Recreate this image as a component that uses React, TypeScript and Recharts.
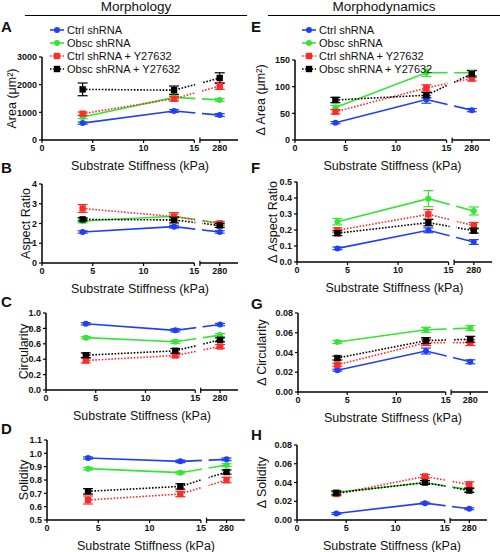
import React from "react";
import {
  LineChart,
  Line,
  XAxis,
  YAxis,
  ErrorBar,
  ReferenceArea,
  ReferenceLine,
  Legend,
} from "recharts";

const FONT = "'Liberation Sans', Arial, Helvetica, sans-serif";

// substrate stiffness (kPa); the x axis is broken between 15 and 280
const stiffness = [4, 13, 280];
const HIGH_POS = 17.5; // where the 280 kPa column sits on the broken axis
const X_MAX = 19.3;
const xPos = (k: number) => (k <= 15 ? k : HIGH_POS);
const xTicks = [0, 5, 10, 15, 15.55, HIGH_POS];
const xTickLabel = (v: number) => (v === HIGH_POS ? "280" : v === 15.55 ? "" : String(v));

const seriesNames = ["Ctrl shRNA", "Obsc shRNA", "Ctrl shRNA + Y27632", "Obsc shRNA + Y27632"];
const seriesColors = ["#1f3ff5", "#35e535", "#ff2a2a", "#000000"];
const seriesDotted = [false, false, true, true];

// Morphology
const areaMean = [[610, 1050, 900], [830, 1540, 1450], [950, 1490, 1950], [1830, 1800, 2240]];
const areaErr = [[40, 50, 50], [60, 90, 50], [60, 80, 120], [230, 150, 190]];
const aspectMean = [[1.57, 1.84, 1.57], [2.13, 2.37, 2.01], [2.76, 2.35, 2.0], [2.21, 2.18, 1.9]];
const aspectErr = [[0.06, 0.07, 0.06], [0.1, 0.1, 0.08], [0.2, 0.2, 0.1], [0.08, 0.15, 0.1]];
const circMean = [[0.86, 0.775, 0.85], [0.68, 0.626, 0.713], [0.383, 0.448, 0.565], [0.452, 0.509, 0.652]];
const circErr = [[0.015, 0.02, 0.015], [0.015, 0.02, 0.02], [0.03, 0.02, 0.025], [0.03, 0.03, 0.025]];
const solMean = [[0.965, 0.94, 0.955], [0.885, 0.855, 0.912], [0.65, 0.695, 0.8], [0.715, 0.752, 0.86]];
const solErr = [[0.008, 0.01, 0.01], [0.01, 0.01, 0.01], [0.03, 0.02, 0.02], [0.02, 0.02, 0.015]];

// Morphodynamics
const dAreaMean = [[32.5, 76, 56], [61, 126, 126], [53, 97.5, 115.6], [75, 84, 124]];
const dAreaErr = [[2, 7, 3], [4, 7, 5], [4, 6, 5], [5, 5, 6]];
const dAspectMean = [[0.085, 0.198, 0.125], [0.252, 0.396, 0.319], [0.198, 0.298, 0.227], [0.18, 0.246, 0.196]];
const dAspectErr = [[0.008, 0.015, 0.015], [0.02, 0.05, 0.025], [0.015, 0.03, 0.02], [0.015, 0.02, 0.015]];
const dCircMean = [[0.0221, 0.0415, 0.0306], [0.0507, 0.063, 0.0647], [0.0276, 0.05, 0.05], [0.0344, 0.052, 0.0534]];
const dCircErr = [[0.001, 0.003, 0.002], [0.0015, 0.0025, 0.0025], [0.0015, 0.003, 0.003], [0.002, 0.003, 0.003]];
const dSolMean = [[0.007, 0.018, 0.012], [0.0296, 0.0398, 0.0324], [0.0278, 0.0465, 0.0377], [0.0289, 0.04, 0.0314]];
const dSolErr = [[0.001, 0.001, 0.001], [0.002, 0.002, 0.002], [0.002, 0.002, 0.003], [0.002, 0.002, 0.002]];

const buildRows = (mean: number[][], err: number[][]) =>
  stiffness.map((k, j) => {
    const row: Record<string, number> = { x: xPos(k) };
    mean.forEach((m, i) => {
      row[`m${i}`] = m[j];
      row[`e${i}`] = err[i][j];
    });
    return row;
  });

const squareDot = (color: string) => (p: any) =>
  p.cx == null ? (
    <g key={`sq-${p.index}`} />
  ) : (
    <rect key={`sq-${p.index}`} x={p.cx - 3.2} y={p.cy - 3.2} width={6.4} height={6.4} fill={color} />
  );

function SeriesKey() {
  return (
    <div style={{ fontFamily: FONT, fontSize: 11, color: "#111" }}>
      {seriesNames.map((n, i) => (
        <div key={n} style={{ display: "flex", alignItems: "center", height: 12.8 }}>
          <svg width={14} height={10}>
            <line
              x1={0}
              x2={14}
              y1={5}
              y2={5}
              stroke={seriesColors[i]}
              strokeWidth={1.6}
              strokeDasharray={seriesDotted[i] ? "1.6 1.6" : undefined}
            />
            {seriesDotted[i] ? (
              <rect x={3.8} y={1.8} width={6.4} height={6.4} fill={seriesColors[i]} />
            ) : (
              <circle cx={7} cy={5} r={3} fill={seriesColors[i]} />
            )}
          </svg>
          <span style={{ marginLeft: 3 }}>{n}</span>
        </div>
      ))}
    </div>
  );
}

type PanelProps = {
  mean: number[][];
  err: number[][];
  yDomain: [number, number];
  yTicks: number[];
  digits: number;
  yLabel: string;
  colLeft: number;
  x0: number;
  x1: number;
  y0: number;
  y1: number;
  labelX: number;
  topPad?: number;
  legendX?: number;
};

function Panel(p: PanelProps) {
  const topPad = p.topPad ?? 8;
  const xh = 34;
  const top = p.y0 - topPad;
  const width = p.x1 - p.colLeft + 4;
  const height = p.y1 - p.y0 + topPad + xh;
  const [ymin, ymax] = p.yDomain;
  const span = ymax - ymin;
  const rows = buildRows(p.mean, p.err);
  const tickStyle = { fontSize: 9, fill: "#111", fontWeight: "bold" as const, fontFamily: FONT };
  return (
    <div style={{ position: "absolute", left: p.colLeft, top }}>
      <LineChart
        width={width}
        height={height}
        data={rows}
        margin={{ top: topPad, right: 4, left: 0, bottom: 0 }}
      >
        <XAxis
          dataKey="x"
          type="number"
          domain={[0, X_MAX]}
          ticks={xTicks}
          interval={0}
          tickFormatter={xTickLabel}
          axisLine={false}
          tickSize={3}
          tickLine={{ stroke: "#000", strokeWidth: 1.2 }}
          tick={tickStyle}
          height={xh}
          label={{
            value: "Substrate Stiffness (kPa)",
            position: "insideBottom",
            offset: 4,
            style: { fontSize: 12.5, fill: "#111", fontFamily: FONT },
          }}
        />
        <YAxis
          type="number"
          domain={p.yDomain}
          ticks={p.yTicks}
          interval={0}
          width={p.x0 - p.colLeft}
          tickFormatter={(v: number) => v.toFixed(p.digits)}
          axisLine={{ stroke: "#000", strokeWidth: 1.5 }}
          tickSize={3}
          tickLine={{ stroke: "#000", strokeWidth: 1.2 }}
          tick={tickStyle}
          label={{
            value: p.yLabel,
            angle: -90,
            position: "insideLeft",
            offset: p.labelX - p.colLeft,
            style: { fontSize: 12.5, fill: "#111", fontFamily: FONT, textAnchor: "middle" },
          }}
        />
        {seriesNames.map((n, i) => (
          <Line
            key={n}
            name={n}
            type="linear"
            dataKey={`m${i}`}
            stroke={seriesColors[i]}
            strokeWidth={1.6}
            strokeDasharray={seriesDotted[i] ? "1.6 1.6" : undefined}
            dot={seriesDotted[i] ? squareDot(seriesColors[i]) : { r: 3, fill: seriesColors[i], stroke: seriesColors[i], strokeWidth: 0 }}
            activeDot={false}
            isAnimationActive={false}
          >
            <ErrorBar dataKey={`e${i}`} direction="y" width={5} stroke={seriesColors[i]} strokeWidth={1.2} />
          </Line>
        ))}
        <ReferenceArea
          x1={15.1}
          x2={15.75}
          y1={ymin + span * 0.03}
          y2={ymax}
          fill="#ffffff"
          fillOpacity={1}
          stroke="none"
          ifOverflow="visible"
          zIndex={700}
        />
        <ReferenceLine
          segment={[{ x: 0, y: ymin }, { x: 15, y: ymin }]}
          stroke="#000"
          strokeWidth={1.5}
          ifOverflow="visible"
        />
        <ReferenceLine
          segment={[{ x: 15.55, y: ymin }, { x: X_MAX, y: ymin }]}
          stroke="#000"
          strokeWidth={1.5}
          ifOverflow="visible"
        />
        <ReferenceLine
          segment={[{ x: 15.55, y: ymin }, { x: 15.55, y: ymin + span * 0.04 }]}
          stroke="#000"
          strokeWidth={1.2}
          ifOverflow="visible"
        />
        {p.legendX != null && (
          <Legend
            layout="vertical"
            align="center"
            verticalAlign="middle"
            content={() => <SeriesKey />}
            wrapperStyle={{ left: p.legendX - p.colLeft, top: 24 - top, width: 140 }}
          />
        )}
      </LineChart>
    </div>
  );
}

const letterStyle = (left: number, top: number): React.CSSProperties => ({
  position: "absolute",
  left,
  top,
  fontFamily: FONT,
  fontWeight: "bold",
  fontSize: 15,
  lineHeight: "15px",
  color: "#111",
});

const headStyle = (left: number, width: number): React.CSSProperties => ({
  position: "absolute",
  left,
  top: 0,
  width,
  textAlign: "center",
  fontFamily: FONT,
  fontSize: 13.5,
  lineHeight: "14px",
  color: "#111",
  borderBottom: "1.5px solid #000",
  paddingBottom: 1,
});

export default function App() {
  const t1 = [0, 1, 2, 3, 4];
  return (
    <div
      style={{
        position: "absolute",
        left: 0,
        top: 0,
        width: 500,
        height: 552,
        background: "#fff",
        overflow: "hidden",
      }}
    >
      <div style={headStyle(25, 222)}>Morphology</div>
      <div style={headStyle(268, 232)}>Morphodynamics</div>

      <div style={letterStyle(1, 19)}>A</div>
      <div style={letterStyle(1, 160)}>B</div>
      <div style={letterStyle(1, 294)}>C</div>
      <div style={letterStyle(1, 421)}>D</div>
      <div style={letterStyle(251, 19)}>E</div>
      <div style={letterStyle(251, 160)}>F</div>
      <div style={letterStyle(251, 296)}>G</div>
      <div style={letterStyle(251, 427)}>H</div>

      <Panel mean={areaMean} err={areaErr} yDomain={[0, 3000]} yTicks={[0, 1000, 2000, 3000]} digits={0}
        yLabel="Area (μm²)" colLeft={0} x0={42} x1={238} y0={57} y1={140} labelX={12} topPad={40} legendX={50} />
      <Panel mean={aspectMean} err={aspectErr} yDomain={[0, 4]} yTicks={t1} digits={0}
        yLabel="Aspect Ratio" colLeft={0} x0={42} x1={238} y0={184} y1={263} labelX={26} />
      <Panel mean={circMean} err={circErr} yDomain={[0, 1]} yTicks={[0, 0.2, 0.4, 0.6, 0.8, 1]} digits={1}
        yLabel="Circularity" colLeft={0} x0={46} x1={238} y0={313} y1={390} labelX={24} />
      <Panel mean={solMean} err={solErr} yDomain={[0.5, 1.1]} yTicks={[0.5, 0.6, 0.7, 0.8, 0.9, 1.0, 1.1]} digits={1}
        yLabel="Solidity" colLeft={0} x0={47} x1={245} y0={440} y1={520} labelX={24} />

      <Panel mean={dAreaMean} err={dAreaErr} yDomain={[0, 150]} yTicks={[0, 50, 100, 150]} digits={0}
        yLabel="Δ Area (μm²)" colLeft={250} x0={295} x1={490} y0={60} y1={140} labelX={261} topPad={43} legendX={302} />
      <Panel mean={dAspectMean} err={dAspectErr} yDomain={[0, 0.5]} yTicks={[0, 0.1, 0.2, 0.3, 0.4, 0.5]} digits={1}
        yLabel="Δ Aspect Ratio" colLeft={250} x0={297} x1={492} y0={182} y1={262} labelX={273} />
      <Panel mean={dCircMean} err={dCircErr} yDomain={[0, 0.08]} yTicks={[0, 0.02, 0.04, 0.06, 0.08]} digits={2}
        yLabel="Δ Circularity" colLeft={250} x0={298} x1={488} y0={313} y1={392} labelX={262} />
      <Panel mean={dSolMean} err={dSolErr} yDomain={[0, 0.08]} yTicks={[0, 0.02, 0.04, 0.06, 0.08]} digits={2}
        yLabel="Δ Solidity" colLeft={250} x0={297} x1={487} y0={445} y1={520} labelX={262} />
    </div>
  );
}
